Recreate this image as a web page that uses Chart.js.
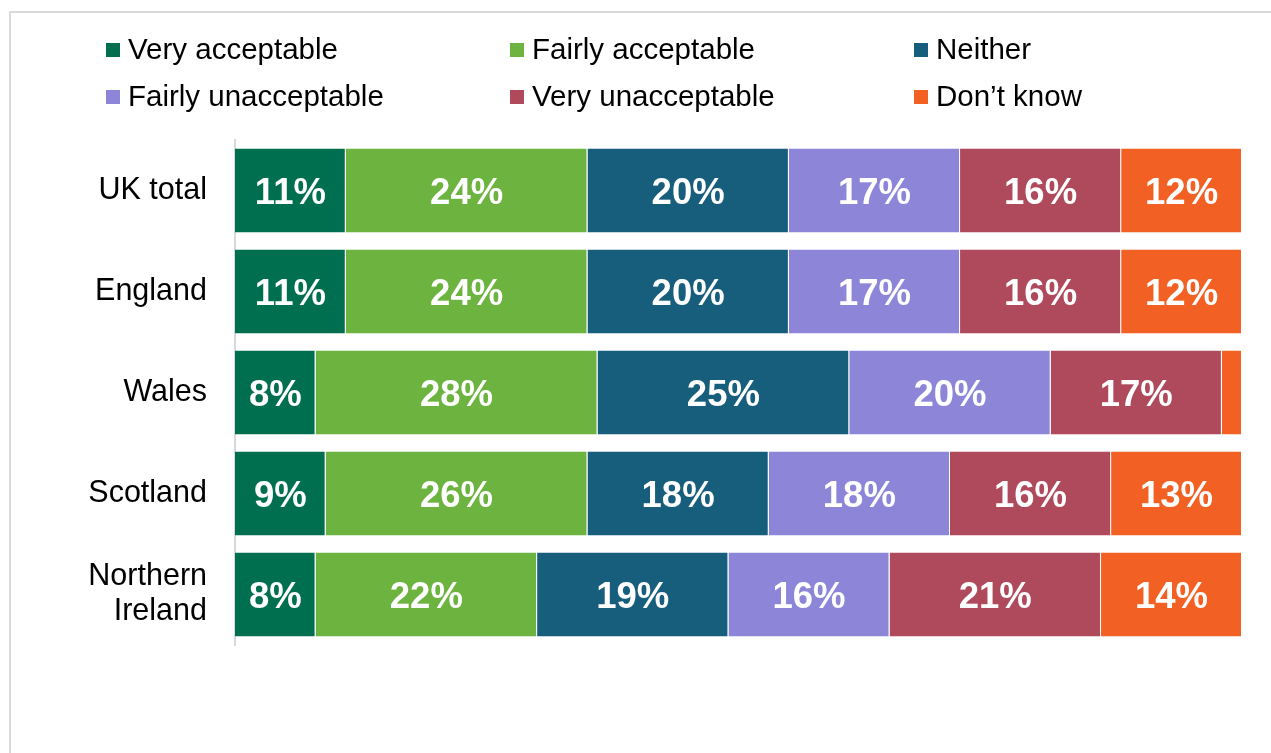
<!DOCTYPE html>
<html>
<head>
<meta charset="utf-8">
<script src="https://cdn.jsdelivr.net/npm/chart.js@4"></script>
<style>
  html, body { margin: 0; padding: 0; background: #fff; }
  #wrap { position: relative; width: 1271px; height: 753px; overflow: hidden; }
  #frame { position: absolute; left: 9px; top: 11px; width: 1400px; height: 900px; border: 2px solid #d9d9d9; box-sizing: border-box; }
  #c { position: absolute; left: 0; top: 0; }
</style>
</head>
<body>
<div id="wrap">
  <div id="frame"></div>
  <canvas id="c" width="1271" height="753"></canvas>
</div>
<script>
const categories = ['UK total', 'England', 'Wales', 'Scotland', ['Northern', 'Ireland']];
const seriesNames = ['Very acceptable', 'Fairly acceptable', 'Neither', 'Fairly unacceptable', 'Very unacceptable', 'Don\u2019t know'];
const veryAcceptable      = [11, 11, 8, 9, 8];
const fairlyAcceptable    = [24, 24, 28, 26, 22];
const neither             = [20, 20, 25, 18, 19];
const fairlyUnacceptable  = [17, 17, 20, 18, 16];
const veryUnacceptable    = [16, 16, 17, 16, 21];
const dontKnow            = [12, 12, 2, 13, 14];
const colors = ['#006F4F', '#6DB33F', '#175D7C', '#8D86D8', '#AE4A5B', '#F26123'];

const seriesValues = [veryAcceptable, fairlyAcceptable, neither, fairlyUnacceptable, veryUnacceptable, dontKnow];
const FONT = "'Liberation Sans', Arial, sans-serif";

const legendPlugin = {
  id: 'gridLegend',
  afterDraw(chart) {
    const ctx = chart.ctx;
    const colX = [106, 510, 914];
    const rowY = [50, 97];
    ctx.save();
    ctx.font = '29.5px ' + FONT;
    ctx.textBaseline = 'middle';
    ctx.textAlign = 'left';
    chart.data.datasets.forEach((ds, i) => {
      const x = colX[i % 3];
      const y = rowY[Math.floor(i / 3)];
      ctx.fillStyle = ds.backgroundColor;
      ctx.fillRect(x, y - 7, 14, 14);
      ctx.fillStyle = '#000';
      ctx.fillText(ds.label, x + 22, y + 1);
    });
    ctx.restore();
  }
};

const labelPlugin = {
  id: 'barLabels',
  afterDatasetsDraw(chart) {
    const ctx = chart.ctx;
    ctx.save();
    ctx.font = 'bold 36.5px ' + FONT;
    ctx.fillStyle = '#fff';
    ctx.textAlign = 'center';
    ctx.textBaseline = 'middle';
    chart.data.datasets.forEach((ds, di) => {
      const meta = chart.getDatasetMeta(di);
      meta.data.forEach((bar, i) => {
        const v = ds.data[i];
        if (v < 5) return;
        const cx = (bar.x + bar.base) / 2;
        ctx.fillText(v + '%', cx, bar.y + 3);
      });
    });
    ctx.restore();
  }
};

new Chart(document.getElementById('c'), {
  type: 'bar',
  data: {
    labels: categories,
    datasets: seriesNames.map((name, i) => ({
      label: name,
      data: seriesValues[i],
      backgroundColor: colors[i],
      borderColor: '#ffffff',
      borderWidth: { left: 0, right: 1, top: 0, bottom: 0 },
      borderSkipped: false,
      categoryPercentage: 1,
      barPercentage: 0.83
    }))
  },
  options: {
    indexAxis: 'y',
    responsive: false,
    animation: false,
    layout: { padding: { left: 0, right: 29, top: 140, bottom: 108 } },
    plugins: { legend: { display: false }, tooltip: { enabled: false } },
    scales: {
      x: { stacked: true, min: 0, max: 100, display: false },
      y: {
        stacked: true,
        grid: { display: false, drawTicks: false },
        border: { display: true, color: '#d9d9d9', width: 2 },
        ticks: { color: '#000', font: { family: FONT, size: 30.5, lineHeight: 1.15 }, padding: 28 },
        afterFit(scale) { scale.width = 235; }
      }
    }
  },
  plugins: [legendPlugin, labelPlugin]
});
</script>
</body>
</html>
